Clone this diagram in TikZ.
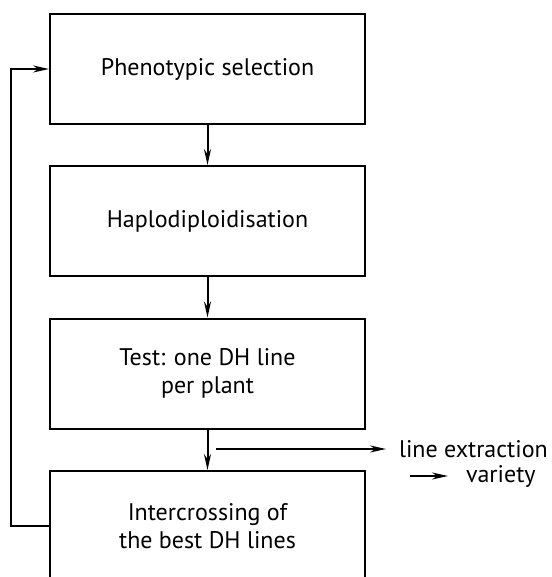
\documentclass[tikz,border=0pt]{standalone}
\usepackage{fontspec}
\setmainfont{PT Sans}
\usetikzlibrary{arrows.meta}
\begin{document}
\begin{tikzpicture}[x=1pt, y=-1pt, line width=2pt,
    stage/.style={draw, minimum width=315pt, minimum height=110pt, align=center,
                  font=\fontsize{24}{28}\selectfont},
    note/.style={font=\fontsize{24}{28}\selectfont, inner sep=2pt},
    flow/.style={-{Stealth[length=16pt, width=7pt]}}]
  \useasboundingbox (0,0) rectangle (551,577);
  \clip (0,0) rectangle (551,577);
  % the four breeding stages
  \node[stage] (pheno) at (207.5, 69)    {Phenotypic selection};
  \node[stage] (haplo) at (207.5, 221)   {Haplodiploidisation};
  \node[stage] (test)  at (207.5, 373.5) {Test: one DH line\\per plant};
  \node[stage] (inter) at (207.5, 526)   {Intercrossing of\\the best DH lines};
  % side output
  \coordinate (tap) at (216, 449);
  \node[note, anchor=west] (extr) at (396, 449) {line extraction};
  \coordinate (varfrom) at (410, 476);
  \node[note, anchor=west] (var) at (463, 476) {variety};
  % connectors
  \draw[flow] (pheno) -- (haplo);
  \draw[flow] (haplo) -- (test);
  \draw[flow] (test) -- (inter);
  \draw[flow, shorten >=10pt] (tap) -- (extr.west);
  \draw[flow, shorten >=15pt] (varfrom) -- (var.west);
  \draw[flow] (inter.west) -- ++(-38, 0) |- (pheno.west);
\end{tikzpicture}
\end{document}
